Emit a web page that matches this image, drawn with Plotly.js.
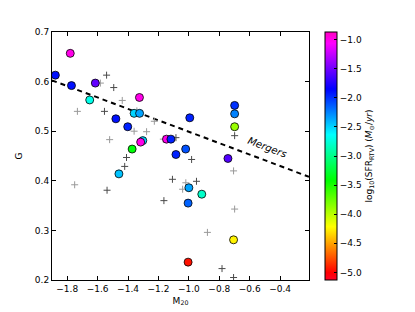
<!DOCTYPE html>
<html>
<head>
<meta charset="utf-8">
<script src="https://cdn.plot.ly/plotly-3.0.1.min.js"></script>
<style>html,body{margin:0;padding:0;background:#fff;}#chart{width:415px;height:312px;}</style>
</head>
<body>
<div id="chart"></div>
<script>
// Galaxies with SFR (coloured circles)
const m20Sfr = [-1.878, -1.780, -1.772, -1.615, -1.652, -1.480, -1.402, -1.325, -1.360, -1.324,
                -0.994, -1.147, -1.118, -1.303, -1.317, -1.373, -1.085, -1.021, -0.699, -0.699,
                -0.699, -0.743, -1.000, -0.915, -1.005, -0.706, -1.005, -1.460];
const gSfr   = [0.613, 0.657, 0.592, 0.597, 0.563, 0.525, 0.509, 0.568, 0.536, 0.536,
                0.527, 0.484, 0.484, 0.481, 0.478, 0.464, 0.453, 0.464, 0.552, 0.535,
                0.509, 0.445, 0.386, 0.373, 0.355, 0.281, 0.236, 0.414];
const logSfr = [-1.9, -1.0, -1.9, -1.55, -2.7, -1.9, -1.95, -1.0, -2.5, -2.35,
                -1.95, -1.0, -1.95, -2.5, -1.0, -3.4, -1.95, -2.1, -2.0, -2.25,
                -3.9, -1.6, -2.35, -2.8, -2.15, -4.25, -4.95, -2.45];

// Galaxies without SFR (crosses), dark and grey
const m20Dark = [-1.541, -1.494, -1.555, -1.410, -1.422, -1.538, -0.982, -0.699, -1.108, -0.950, -1.164, -0.782, -0.706, -1.085];
const gDark   = [0.613, 0.588, 0.540, 0.447, 0.429, 0.381, 0.443, 0.491, 0.403, 0.399, 0.360, 0.223, 0.205, 0.487];
const m20Grey = [-1.582, -1.438, -1.733, -1.342, -1.227, -1.360, -1.278, -1.168, -1.521, -0.706, -1.020, -1.041, -0.699, -0.878, -1.751];
const gGrey   = [0.597, 0.562, 0.540, 0.541, 0.520, 0.500, 0.499, 0.484, 0.483, 0.420, 0.396, 0.383, 0.343, 0.296, 0.392];

// Merger dividing line (endpoints)
const lineM20 = [-1.9, -0.21];
const lineG   = [0.6025, 0.408];

const xTicks = [-1.8, -1.6, -1.4, -1.2, -1.0, -0.8, -0.6, -0.4];
const yTicks = [0.2, 0.3, 0.4, 0.5, 0.6, 0.7];
const cbTicks = [-1.0, -1.5, -2.0, -2.5, -3.0, -3.5, -4.0, -4.5, -5.0];

const gistRainbow = [
  [0.000, 'rgb(255,0,40)'],
  [0.030, 'rgb(255,0,0)'],
  [0.215, 'rgb(255,255,0)'],
  [0.400, 'rgb(0,255,0)'],
  [0.586, 'rgb(0,255,255)'],
  [0.770, 'rgb(0,0,255)'],
  [0.954, 'rgb(255,0,255)'],
  [1.000, 'rgb(255,0,191)']
];

const font = {family: 'DejaVu Sans', size: 9, color: '#000'};

const traces = [
  {x: lineM20, y: lineG, mode: 'lines', type: 'scatter',
   line: {color: '#000', width: 2, dash: '5px,4px'}, hoverinfo: 'skip'},
  {x: m20Grey, y: gGrey, mode: 'markers', type: 'scatter',
   marker: {symbol: 'cross-thin', size: 5, line: {color: '#999999', width: 1}}},
  {x: m20Dark, y: gDark, mode: 'markers', type: 'scatter',
   marker: {symbol: 'cross-thin', size: 5, line: {color: '#4a4a4a', width: 1}}},
  {x: m20Sfr, y: gSfr, mode: 'markers', type: 'scatter',
   marker: {size: 8, color: logSfr, colorscale: gistRainbow, cmin: -5.13, cmax: -0.87,
            line: {color: '#000', width: 0.8},
            colorbar: {
              x: 1.061, xanchor: 'left', xpad: 0, y: 0.5, yanchor: 'middle', ypad: 0,
              len: 1, lenmode: 'fraction', thickness: 12, thicknessmode: 'pixels',
              outlinecolor: '#000', outlinewidth: 1,
              tickvals: cbTicks, tickformat: '.1f', ticks: 'inside', ticklen: 3, tickcolor: '#000',
              tickfont: font,
              title: {text: 'log<sub>10</sub>(SFR<sub>RTV</sub>) (<i>M</i><sub>⊙</sub>/<i>yr</i>)',
                      side: 'right', font: {family: 'DejaVu Sans', size: 9, color: '#000'}}
            }}}
];

const axisCommon = {showgrid: false, zeroline: false, showline: true, linecolor: '#000', linewidth: 1,
                    mirror: 'ticks', ticks: 'inside', ticklen: 4, tickcolor: '#000', tickfont: font};

const layout = {
  width: 415, height: 312,
  margin: {l: 52, r: 106, t: 32, b: 32},
  paper_bgcolor: '#fff', plot_bgcolor: '#fff',
  showlegend: false,
  font: font,
  xaxis: Object.assign({}, axisCommon, {range: [-1.9, -0.21], tickvals: xTicks, tickformat: '.1f',
         title: {text: 'M<sub>20</sub>', font: font, standoff: 4}}),
  yaxis: Object.assign({}, axisCommon, {range: [0.2, 0.7], tickvals: yTicks, tickformat: '.1f',
         title: {text: 'G', font: font, standoff: 10}}),
  annotations: [{x: -0.48, y: 0.468, xref: 'x', yref: 'y', text: '<i>Mergers</i>', showarrow: false,
                 textangle: 21, font: {family: 'DejaVu Sans', size: 10, color: '#000'}}]
};

Plotly.newPlot('chart', traces, layout, {staticPlot: true, displayModeBar: false});
</script>
</body>
</html>
